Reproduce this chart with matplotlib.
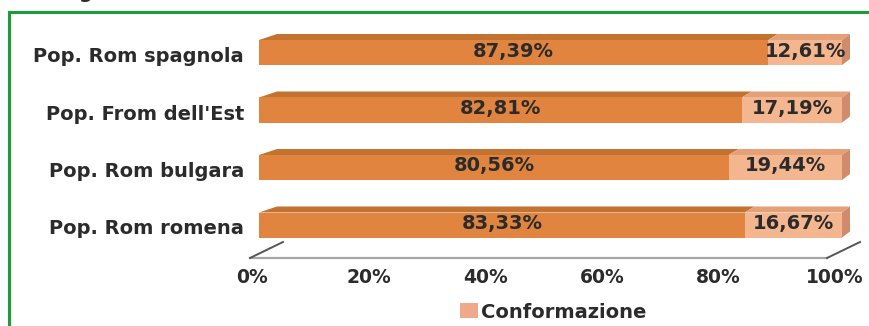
import matplotlib
matplotlib.use("Agg")
import matplotlib.pyplot as plt
from matplotlib.patches import Polygon, Patch
from matplotlib.lines import Line2D
from matplotlib.transforms import ScaledTranslation

# ---------------- data ----------------
categories = ["Pop. Rom romena", "Pop. Rom bulgara", "Pop. From dell'Est", "Pop. Rom spagnola"]
non_conf = [83.33, 80.56, 82.81, 87.39]
conf = [16.67, 19.44, 17.19, 12.61]
legend_label = "Conformazione"
xtick_values = [0, 20, 40, 60, 80, 100]
xtick_labels = ["0%", "20%", "40%", "60%", "80%", "100%"]

# ---------------- style ----------------
W, H, DPI = 870, 326, 100
FONT = "DejaVu Sans"
TXT = "#2b2b2b"
DARK_FRONT = "#e0843f"
DARK_TOP = "#c4722f"
LIGHT_FRONT = "#f3b68f"
LIGHT_TOP = "#e6a077"
SIDE = "#cf8b6c"
LEGEND_COL = "#efa98a"
GREEN = "#1f9a3c"

fig = plt.figure(figsize=(W / DPI, H / DPI), dpi=DPI)
fig.patch.set_facecolor("white")

# axes placed so 0..100 maps onto pixel columns 259..842
ax_left_px, ax_right_px = 259, 842
ax_top_px, ax_bot_px = 10, 270
ax = fig.add_axes([ax_left_px / W, 1 - ax_bot_px / H,
                   (ax_right_px - ax_left_px) / W, (ax_bot_px - ax_top_px) / H])
px_per_y = 57.5
ax.set_xlim(0, 100)
ax.set_ylim(-(ax_bot_px - 225) / px_per_y, 3 + (52.5 - ax_top_px) / px_per_y)
ax.axis("off")
ax.set_facecolor("none")

sx = 100 / (ax_right_px - ax_left_px)   # data units per px in x
sy = 1 / px_per_y                       # data units per px in y
bar_h = 25 * sy
dy = 6 * sy


def depth_dx(x):
    # perspective: deeper offset at left than at right (px -> data)
    return (18 - 10 * x / 100) * sx


ypos = list(range(len(categories)))
front_dark = ax.barh(ypos, non_conf, height=bar_h, color=DARK_FRONT, linewidth=0, zorder=3)
front_light = ax.barh(ypos, conf, left=non_conf, height=bar_h, color=LIGHT_FRONT,
                      linewidth=0, zorder=3, label=legend_label)

VAL_FS = 14
for y, a, b in zip(ypos, non_conf, conf):
    yt = y + bar_h / 2
    yb = y - bar_h / 2
    for x0, x1, col in ((0, a, DARK_TOP), (a, a + b, LIGHT_TOP)):
        ax.add_patch(Polygon([(x0, yt), (x1, yt), (x1 + depth_dx(x1), yt + dy),
                              (x0 + depth_dx(x0), yt + dy)], closed=True,
                             facecolor=col, edgecolor="none", zorder=2, clip_on=False))
    xe = a + b
    ax.add_patch(Polygon([(xe, yt), (xe + depth_dx(xe), yt + dy),
                          (xe + depth_dx(xe), yb + dy), (xe, yb)], closed=True,
                         facecolor=SIDE, edgecolor="none", zorder=2, clip_on=False))
    ax.text(a / 2, y + 1.5 * sy, f"{a:.2f}%".replace(".", ","), ha="center", va="center",
            fontsize=VAL_FS, fontweight="bold", color=TXT, family=FONT, zorder=5)
    ax.text(a + b / 2, y + 1.5 * sy, f"{b:.2f}%".replace(".", ","), ha="center", va="center",
            fontsize=VAL_FS, fontweight="bold", color=TXT, family=FONT, zorder=5)

# floor (3D base)
floor_y = -(258 - 225) * sy
floor_back = -(242 - 225) * sy
fl_x0, fl_x1 = (250 - ax_left_px) * sx, (827 - ax_left_px) * sx
ax.plot([fl_x0, fl_x1], [floor_y, floor_y], color="#a6a6a6", lw=1.6, clip_on=False,
        zorder=1)
ax.plot([fl_x0, fl_x0 + 33 * sx], [floor_y, floor_back], color="#555555", lw=1.4,
        clip_on=False, zorder=1)
ax.plot([fl_x1, fl_x1 + 33 * sx], [floor_y, floor_back], color="#555555", lw=1.4,
        clip_on=False, zorder=1)

# x tick labels (under the floor front edge)
for v, lab in zip(xtick_values, xtick_labels):
    xpix_shift = ScaledTranslation(-7 / DPI, 0, fig.dpi_scale_trans)
    ax.text(v, -(277.5 - 225) * sy, lab, ha="center", va="center", fontsize=13.5,
            fontweight="bold", color=TXT, family=FONT, clip_on=False,
            transform=ax.transData + xpix_shift)

# category labels
for y, cat in zip(ypos, categories):
    shift = ScaledTranslation(-15 / DPI, -4 / DPI, fig.dpi_scale_trans)
    ax.text(0, y, cat, ha="right", va="center", fontsize=14, fontweight="bold",
            color=TXT, family=FONT, clip_on=False, transform=ax.transData + shift)

# legend
fig.legend(handles=[Patch(facecolor=LEGEND_COL, edgecolor="none", label=legend_label)],
           loc="center", bbox_to_anchor=(553 / W, 1 - 312 / H), frameon=False,
           handlelength=0.95, handleheight=0.8, handletextpad=0.15,
           prop=dict(family=FONT, weight="bold", size=14), labelcolor=TXT,
           borderaxespad=0, borderpad=0)

# green frame (top and left) and clipped title fragment above
fig.add_artist(Line2D([9 / W, 1], [1 - 12 / H, 1 - 12 / H], color=GREEN, lw=2.2,
                      transform=fig.transFigure))
fig.add_artist(Line2D([9 / W, 9 / W], [0, 1 - 12 / H], color=GREEN, lw=2.2,
                      transform=fig.transFigure))
fig.text(78 / W, 1 + 2 / H, "g", ha="left", va="baseline", fontsize=14,
         fontweight="bold", color=TXT, family=FONT)

fig.savefig("out.png", dpi=DPI, facecolor="white")
